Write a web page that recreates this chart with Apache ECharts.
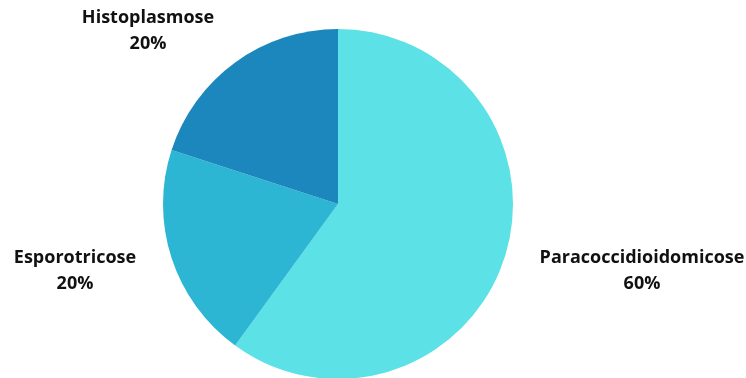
<!DOCTYPE html>
<html>
<head>
<meta charset="utf-8">
<script src="https://cdn.jsdelivr.net/npm/echarts@6/dist/echarts.min.js"></script>
<style>
  html, body { margin: 0; padding: 0; background: #fff; }
  #chart { width: 746px; height: 378px; }
</style>
</head>
<body>
<div id="chart"></div>
<script>
const categories = ['Paracoccidioidomicose', 'Esporotricose', 'Histoplasmose'];
const values = [60, 20, 20];
const sliceColors = ['#5CE1E6', '#2CB6D3', '#1B87BD'];

// where each label sits (centre of the text block)
const labelSpots = [[642, 271], [75, 271], [148, 31]];

const chart = echarts.init(document.getElementById('chart'));

chart.setOption({
    animation: false,
    series: [{
        type: 'pie',
        center: [338, 204],
        radius: 175,
        startAngle: 90,
        clockwise: true,
        data: categories.map((c, i) => ({
            name: c,
            value: values[i],
            itemStyle: { color: sliceColors[i] }
        })),
        label: {
            show: true,
            position: 'inside',
            formatter: p => p.name + '\n' + p.value + '%',
            fontFamily: 'Open Sans',
            fontWeight: 'bold',
            fontSize: 18,
            lineHeight: 26,
            color: '#111',
            align: 'center',
            overflow: 'none'
        },
        labelLine: { show: false },
        labelLayout: function (params) {
            const s = labelSpots[params.dataIndex];
            return { x: s[0], y: s[1], align: 'center', verticalAlign: 'middle' };
        },
        emphasis: { disabled: true }
    }]
});
</script>
</body>
</html>
